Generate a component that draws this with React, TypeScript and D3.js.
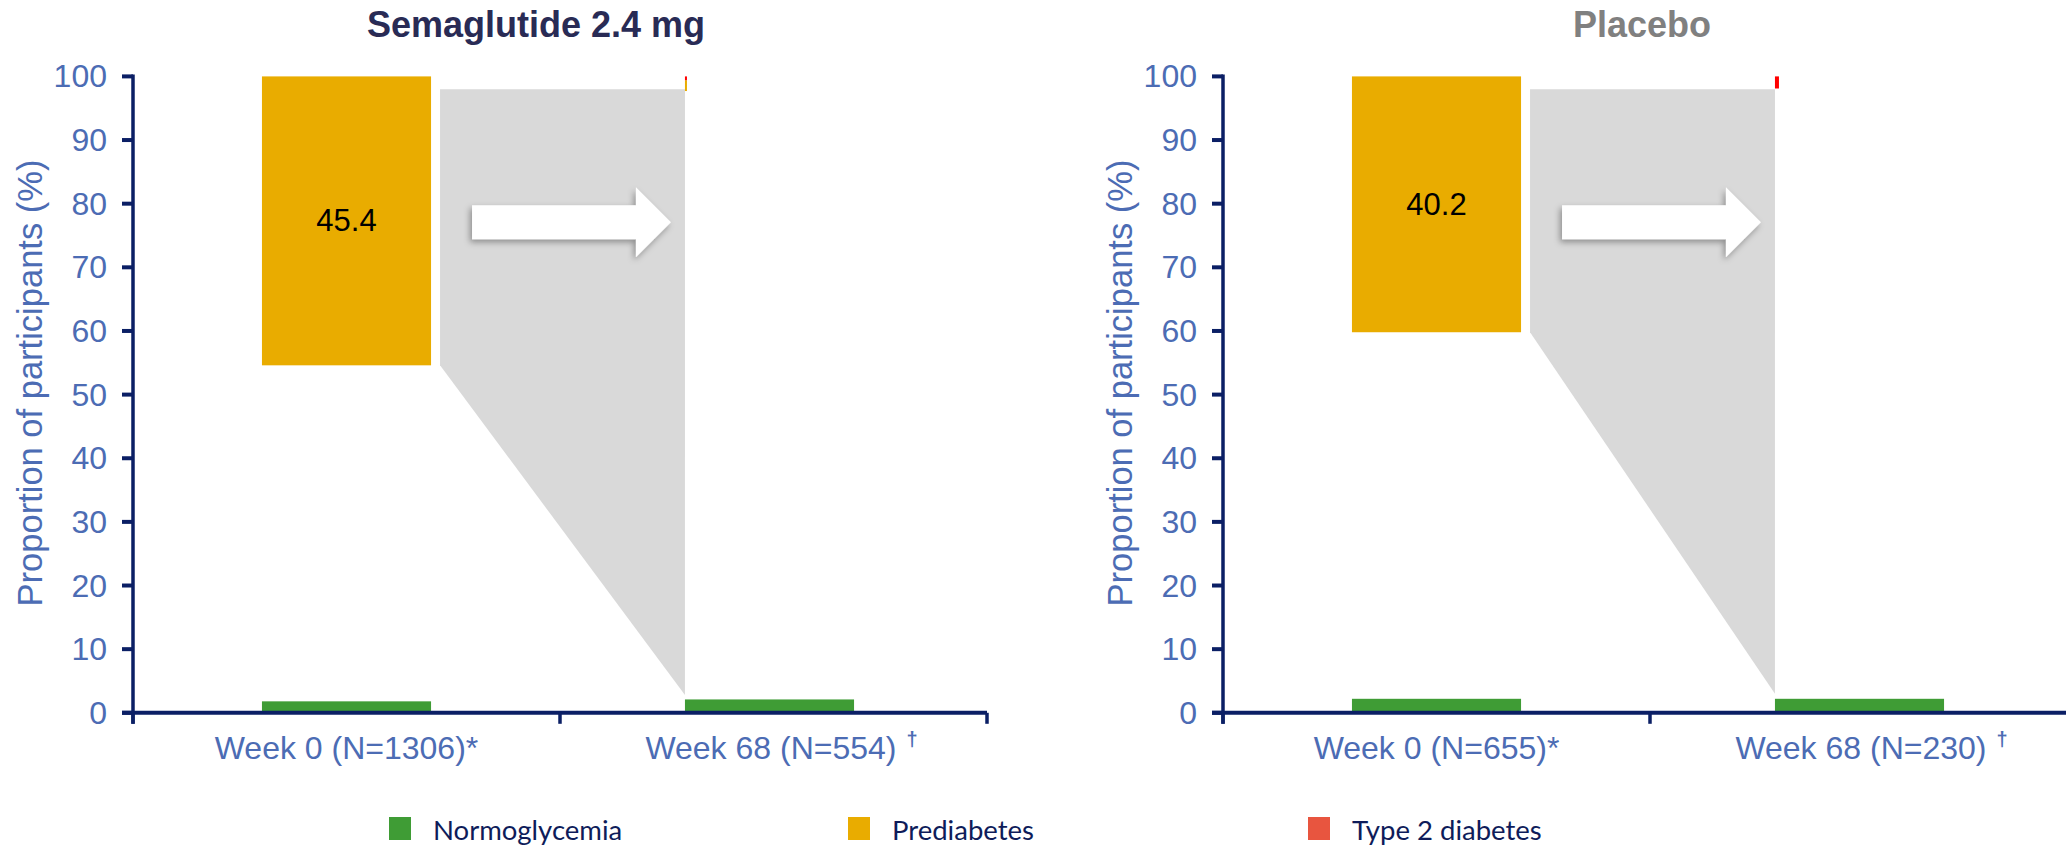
import React from "react";
import * as d3 from "d3";

// ---------- data ----------
const categories = ["Week 0", "Week 68"];
const panelTitles = ["Semaglutide 2.4 mg", "Placebo"];
const xLabelsSema = ["Week 0 (N=1306)*", "Week 68 (N=554)"];
const xLabelsPlacebo = ["Week 0 (N=655)*", "Week 68 (N=230)"];
const xLabelMarks = ["", "†"];
// Normoglycemia segment (drawn from the baseline)
const normoSema = [1.8, 2.1];
const normoPlacebo = [2.2, 2.2];
// Prediabetes segment (drawn below Type 2 diabetes, from the top)
const prediabetesSema = [45.4, 1.7];
const prediabetesPlacebo = [40.2, 0];
// Type 2 diabetes segment (from the top)
const t2dSema = [0, 0.6];
const t2dPlacebo = [0, 1.9];
const barLabelsSema = ["45.4", ""];
const barLabelsPlacebo = ["40.2", ""];
// grey transition band: top level and end level at week 68
const flowTop = [98.0, 98.0];
const flowEnd = [2.8, 3.0];
const arrowLevel = [77.1, 77.1];
const yTicks = d3.range(0, 101, 10);
const legendItems = ["Normoglycemia", "Prediabetes", "Type 2 diabetes"];

// ---------- style ----------
const C_GREEN = "#3F9C35";
const C_YELLOW = "#E9AC00";
const C_RED = "#FF0000";
const C_RED_LEG = "#E8553F";
const C_GREY = "#D9D9D9";
const C_AXIS = "#0B1F65";
const C_TICK = "#4C6CB4";
const C_LEG = "#0E1C5A";
const ARIAL = "'Liberation Sans', Arial, sans-serif";

const W = 2066;
const H = 849;
const BAND = 427;
const SHIFT = [0, -4]; // small horizontal nudge of the bars within their bands
const y = d3.scaleLinear().domain([0, 100]).range([712.8, 76.4]);

type PanelProps = {
  idx: number;
  x0: number;
  title: string;
  titleColor: string;
  titleCx: number;
  xLabels: string[];
  normo: number[];
  pre: number[];
  t2d: number[];
  barLabels: string[];
  sliverW: number;
};

function Panel(p: PanelProps) {
  const x = d3
    .scaleBand<string>()
    .domain(categories)
    .range([p.x0, p.x0 + 2 * BAND])
    .paddingInner(0.604)
    .paddingOuter(0.302);
  const bw = x.bandwidth();
  const bx = (i: number) => x(categories[i])! + SHIFT[i];
  const xa = bx(0);
  const xb = bx(1);
  const yellowBottom = 100 - p.t2d[0] - p.pre[0];
  const gl = xa + bw + 9;
  const gr = xb;
  const poly = [
    [gl, y(flowTop[p.idx])],
    [gr, y(flowTop[p.idx])],
    [gr, y(flowEnd[p.idx])],
    [gl, y(yellowBottom)],
  ];
  const line = d3.line();
  // arrow
  const aS = gl + 32;
  const aT = gr - 14;
  const ay = y(arrowLevel[p.idx]);
  const hl = 35;
  const sh = 17;
  const hh = 35;
  const arrowPts: [number, number][] = [
    [aS, ay - sh],
    [aT - hl, ay - sh],
    [aT - hl, ay - hh],
    [aT, ay],
    [aT - hl, ay + hh],
    [aT - hl, ay + sh],
    [aS, ay + sh],
  ];
  const bounds = [p.x0, p.x0 + BAND, p.x0 + 2 * BAND];

  return (
    <g>
      <text
        x={p.titleCx}
        y={37}
        textAnchor="middle"
        fontFamily={ARIAL}
        fontWeight="bold"
        fontSize={36}
        fill={p.titleColor}
      >
        {p.title}
      </text>

      {/* grey transition band */}
      <path d={line(poly as [number, number][])! + "Z"} fill={C_GREY} />
      <path d={line(arrowPts)! + "Z"} fill="#FFFFFF" filter="url(#shadow)" />

      {/* bars */}
      {categories.map((c, i) => {
        const x1 = bx(i);
        const w = i === 0 ? bw : p.sliverW;
        const redTop = 100;
        const redBot = 100 - p.t2d[i];
        const yelBot = redBot - p.pre[i];
        return (
          <g key={c}>
            <rect x={x1} y={y(p.normo[i])} width={bw} height={y(0) - y(p.normo[i])} fill={C_GREEN} />
            {p.pre[i] > 0 && (
              <rect x={x1} y={y(redBot)} width={w} height={y(yelBot) - y(redBot)} fill={C_YELLOW} />
            )}
            {p.t2d[i] > 0 && (
              <rect x={x1} y={y(redTop)} width={w} height={y(redBot) - y(redTop)} fill={C_RED} />
            )}
            {p.barLabels[i] && (
              <text
                x={x1 + bw / 2}
                y={y((redBot + yelBot) / 2)}
                textAnchor="middle"
                dominantBaseline="central"
                fontFamily={ARIAL}
                fontSize={31}
                fill="#000"
              >
                {p.barLabels[i]}
              </text>
            )}
          </g>
        );
      })}

      {/* y axis */}
      <line x1={p.x0} x2={p.x0} y1={y(100) - 2} y2={y(0) + 11} stroke={C_AXIS} strokeWidth={3.5} />
      {yTicks.map((t) => (
        <g key={t}>
          <line x1={p.x0 - 11} x2={p.x0} y1={y(t)} y2={y(t)} stroke={C_AXIS} strokeWidth={4} />
          <text
            x={p.x0 - 26}
            y={y(t)}
            textAnchor="end"
            dominantBaseline="central"
            fontFamily={ARIAL}
            fontSize={32}
            fill={C_TICK}
          >
            {t}
          </text>
        </g>
      ))}
      <text
        transform={`translate(${p.x0 - 103},${383}) rotate(-90)`}
        textAnchor="middle"
        dominantBaseline="central"
        fontFamily={ARIAL}
        fontSize={34.5}
        fill={C_TICK}
      >
        Proportion of participants (%)
      </text>

      {/* x axis */}
      <line x1={p.x0 - 11} x2={p.x0 + 2 * BAND} y1={y(0)} y2={y(0)} stroke={C_AXIS} strokeWidth={4} />
      {bounds.map((b) => (
        <line key={b} x1={b} x2={b} y1={y(0)} y2={y(0) + 11} stroke={C_AXIS} strokeWidth={3.5} />
      ))}
      {categories.map((c, i) => (
        <text
          key={c}
          x={x(c)! + bw / 2 + (xLabelMarks[i] ? 8 : 0)}
          y={759}
          textAnchor="middle"
          fontFamily={ARIAL}
          fontSize={32}
          fill={C_TICK}
        >
          {p.xLabels[i]}
          {xLabelMarks[i] && (
            <tspan dx={10} dy={-13} fontSize={20} fontWeight="bold">
              {xLabelMarks[i]}
            </tspan>
          )}
        </text>
      ))}
    </g>
  );
}

export default function App() {
  const legendColors = [C_GREEN, C_YELLOW, C_RED_LEG];
  const legendX = [389, 848, 1308];
  return (
    <svg
      width={W}
      height={H}
      style={{ position: "absolute", left: 0, top: 0, background: "#fff" }}
    >
      <defs>
        <filter id="shadow" x="-20%" y="-40%" width="140%" height="180%">
          <feDropShadow dx={-2} dy={3} stdDeviation={3} floodColor="#000" floodOpacity={0.35} />
        </filter>
      </defs>
      <rect width={W} height={H} fill="#fff" />
      <Panel
        idx={0}
        x0={133}
        title={panelTitles[0]}
        titleColor="#292B55"
        titleCx={536}
        xLabels={xLabelsSema}
        normo={normoSema}
        pre={prediabetesSema}
        t2d={t2dSema}
        barLabels={barLabelsSema}
        sliverW={2}
      />
      <Panel
        idx={1}
        x0={1223}
        title={panelTitles[1]}
        titleColor="#808080"
        titleCx={1642}
        xLabels={xLabelsPlacebo}
        normo={normoPlacebo}
        pre={prediabetesPlacebo}
        t2d={t2dPlacebo}
        barLabels={barLabelsPlacebo}
        sliverW={4}
      />
      {legendItems.map((d, i) => (
        <g key={d}>
          <rect x={legendX[i]} y={817} width={22} height={23} fill={legendColors[i]} />
          <text x={legendX[i] + 44} y={840} fontFamily="Lato, 'Noto Sans', sans-serif" fontSize={27.5} fill={C_LEG}>
            {d}
          </text>
        </g>
      ))}
    </svg>
  );
}
